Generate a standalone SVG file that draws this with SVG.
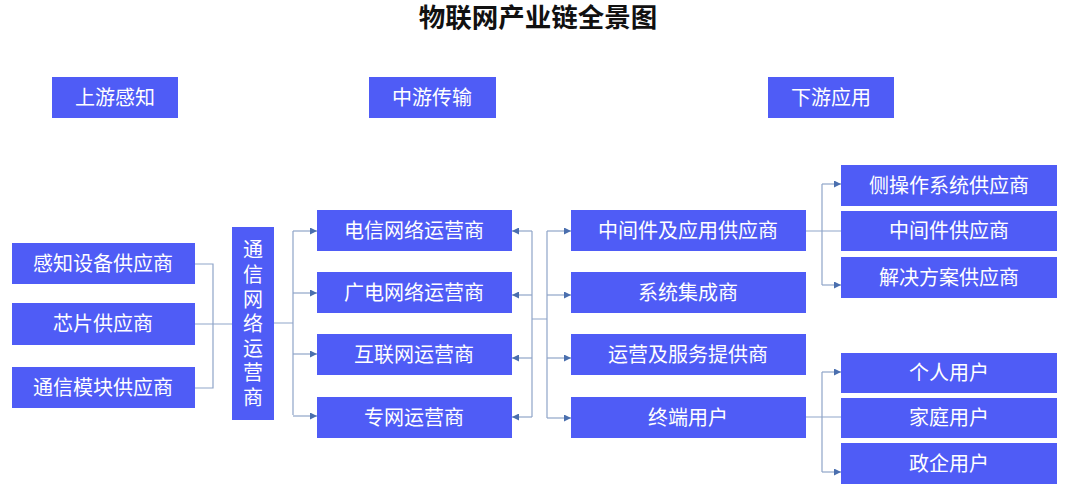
<svg xmlns="http://www.w3.org/2000/svg" width="1080" height="489" viewBox="0 0 1080 489">
<defs>
<style>
.box{fill:#4f5cf6;}
.t{font-family:"Liberation Sans","Noto Sans CJK SC",sans-serif;font-size:20px;fill:#ffffff;text-anchor:middle;dominant-baseline:central;}
.title{font-family:"Liberation Sans","Noto Sans CJK SC",sans-serif;font-size:26.5px;font-weight:bold;fill:#111111;text-anchor:middle;dominant-baseline:central;}
.ln{fill:none;stroke:#8fa5c9;stroke-width:1.2;}
.ar{fill:none;stroke:#8fa5c9;stroke-width:1.2;marker-end:url(#ah);}
</style>
<marker id="ah" viewBox="0 0 10 10" refX="10" refY="5" markerWidth="7" markerHeight="7" markerUnits="userSpaceOnUse" orient="auto">
<path d="M0,0 L10,5 L0,10 z" fill="#4a6fae"/>
</marker>
</defs>
<rect width="1080" height="489" fill="#ffffff"/>
<text class="title" x="538" y="18">物联网产业链全景图</text>

<g id="h1"><rect class="box" x="52" y="77" width="126" height="41"/><text class="t" x="115" y="98">上游感知</text></g>
<g id="h2"><rect class="box" x="369" y="77" width="127" height="41"/><text class="t" x="432" y="98">中游传输</text></g>
<g id="h3"><rect class="box" x="768" y="77" width="126" height="41"/><text class="t" x="831" y="98">下游应用</text></g>

<g id="l1"><rect class="box" x="12" y="243" width="183" height="41"/><text class="t" x="103" y="264">感知设备供应商</text></g>
<g id="l2"><rect class="box" x="12" y="303" width="183" height="42"/><text class="t" x="103" y="324">芯片供应商</text></g>
<g id="l3"><rect class="box" x="12" y="367" width="183" height="41"/><text class="t" x="103" y="388">通信模块供应商</text></g>

<g id="v"><rect class="box" x="232" y="227" width="42" height="193"/>
<text class="t" x="253"><tspan x="253" y="250">通</tspan><tspan x="253" y="275">信</tspan><tspan x="253" y="300">网</tspan><tspan x="253" y="324">络</tspan><tspan x="253" y="349">运</tspan><tspan x="253" y="373">营</tspan><tspan x="253" y="398">商</tspan></text></g>

<g id="m1"><rect class="box" x="317" y="210" width="195" height="41"/><text class="t" x="414" y="231">电信网络运营商</text></g>
<g id="m2"><rect class="box" x="317" y="272" width="195" height="41"/><text class="t" x="414" y="293">广电网络运营商</text></g>
<g id="m3"><rect class="box" x="317" y="334" width="195" height="41"/><text class="t" x="414" y="355">互联网运营商</text></g>
<g id="m4"><rect class="box" x="317" y="397" width="195" height="41"/><text class="t" x="414" y="418">专网运营商</text></g>

<g id="r1"><rect class="box" x="571" y="210" width="235" height="41"/><text class="t" x="688" y="231">中间件及应用供应商</text></g>
<g id="r2"><rect class="box" x="571" y="272" width="235" height="41"/><text class="t" x="688" y="293">系统集成商</text></g>
<g id="r3"><rect class="box" x="571" y="334" width="235" height="41"/><text class="t" x="688" y="355">运营及服务提供商</text></g>
<g id="r4"><rect class="box" x="571" y="397" width="235" height="41"/><text class="t" x="688" y="418">终端用户</text></g>

<g id="s1"><rect class="box" x="841" y="165" width="216" height="41"/><text class="t" x="949" y="186">侧操作系统供应商</text></g>
<g id="s2"><rect class="box" x="841" y="211" width="216" height="40"/><text class="t" x="949" y="231">中间件供应商</text></g>
<g id="s3"><rect class="box" x="841" y="257" width="216" height="41"/><text class="t" x="949" y="278">解决方案供应商</text></g>
<g id="u1"><rect class="box" x="841" y="353" width="216" height="40"/><text class="t" x="949" y="373">个人用户</text></g>
<g id="u2"><rect class="box" x="841" y="398" width="216" height="40"/><text class="t" x="949" y="418">家庭用户</text></g>
<g id="u3"><rect class="box" x="841" y="443" width="216" height="41"/><text class="t" x="949" y="464">政企用户</text></g>

<g id="connectors">
<path class="ln" d="M195,264 H213 V388 H195 M195,324 H232"/>
<path class="ln" d="M274,323 H293 M293,231 V415"/>
<path class="ar" d="M293,231 H317"/>
<path class="ar" d="M293,293 H317"/>
<path class="ar" d="M293,354 H317"/>
<path class="ar" d="M293,416 H317"/>
<path class="ln" d="M532,231 V417 M532,319 H547 M547,231 V418"/>
<path class="ar" d="M532,231 H512"/>
<path class="ar" d="M532,295 H512"/>
<path class="ar" d="M532,358 H512"/>
<path class="ar" d="M532,417 H512"/>
<path class="ar" d="M547,231 H571"/>
<path class="ar" d="M547,295 H571"/>
<path class="ar" d="M547,358 H571"/>
<path class="ar" d="M547,418 H571"/>
<path class="ln" d="M806,231 H841 M822,184 V285"/>
<path class="ar" d="M822,184 H841"/>
<path class="ar" d="M822,285 H841"/>
<path class="ln" d="M806,417 H841 M822,372 V472"/>
<path class="ar" d="M822,372 H841"/>
<path class="ar" d="M822,472 H841"/>
</g>
</svg>
